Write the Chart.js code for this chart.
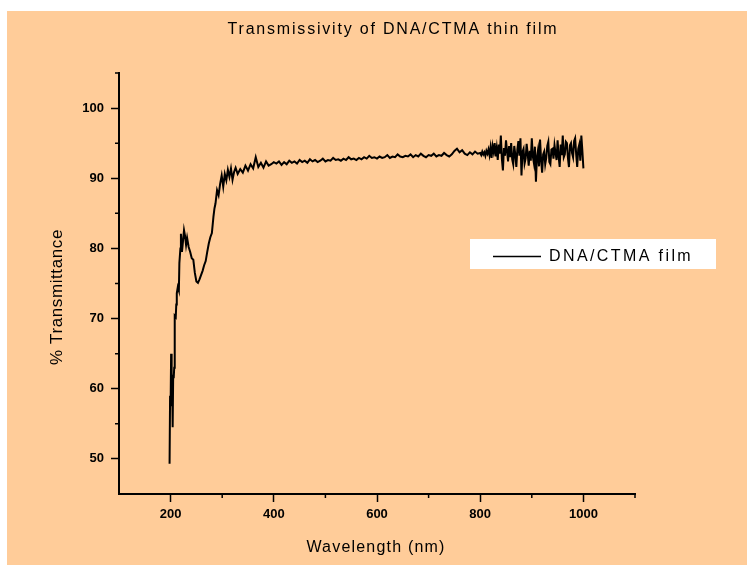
<!DOCTYPE html>
<html>
<head>
<meta charset="utf-8">
<script src="https://cdn.jsdelivr.net/npm/chart.js@4.4.1/dist/chart.umd.min.js"></script>
<style>
  html, body { margin: 0; padding: 0; background: #fff; }
  canvas { display: block; }
</style>
</head>
<body>
<canvas id="transmission-chart" width="747" height="565"></canvas>
<script>
const chartTitle = 'Transmissivity of DNA/CTMA thin film';
const xTitle = 'Wavelength (nm)';
const yTitle = '% Transmittance';
const seriesLabel = 'DNA/CTMA film';

// wavelength in nm
const wavelengths = [
    198, 199, 200, 201, 202, 203, 204, 205, 206, 207,
    208, 210, 211, 212, 214, 216, 217, 219, 220, 222,
    224, 226, 228, 230, 232, 235, 238, 241, 244, 247,
    250, 253, 256, 259, 262, 265, 268, 271, 274, 277,
    280, 283, 285, 287, 290, 293, 296, 299, 302, 305,
    308, 311, 314, 317, 320, 323, 326, 330, 335, 340,
    345, 350, 355, 360, 365, 370, 375, 380, 385, 390,
    395, 400,
    405, 410, 415, 420, 425, 430, 435, 440, 445, 450,
    455, 460, 465, 470, 475, 480, 485, 490, 495, 500,
    505, 510, 515, 520, 525, 530, 535, 540, 545, 550,
    555, 560, 565, 570, 575, 580, 585, 590, 595, 600,
    605, 610, 615, 620, 625, 630, 635, 640, 645, 650,
    655, 660, 665, 670, 675, 680, 685, 690, 695, 700,
    705, 710, 715, 720, 725, 730, 735, 740, 745, 750,
    755, 760, 765, 770, 775, 780, 785, 790, 795,
    800, 802, 804, 806, 808, 810, 812, 814, 816, 818,
    820, 822, 824, 826, 828, 830, 832, 834, 836, 838,
    840, 842, 844, 846, 848, 850, 852, 854, 856, 858,
    860, 862, 864, 866, 868, 870, 872, 874, 876, 878,
    880, 882, 884, 886, 888, 890, 892, 894, 896, 898,
    900, 902, 904, 906, 908, 910, 912, 914, 916, 918,
    920, 922, 924, 926, 928, 930, 932, 934, 936, 938,
    940, 942, 944, 946, 948, 950, 952, 954, 956, 958,
    960, 962, 964, 966, 968, 970, 972, 974, 976, 978,
    980, 982, 984, 986, 988, 990, 992, 994, 996, 998,
    1000
];

// % transmittance
const transmittance = [
    49.3, 59.0, 57.5, 65.0, 58.0, 61.0, 54.5, 62.0, 61.5, 63.0,
    70.4, 70.2, 72.0, 73.6, 74.5, 74.0, 77.9, 80.0, 82.1, 79.5,
    81.0, 82.6, 81.8, 80.5, 81.5, 80.2, 79.5, 78.6, 78.4, 76.5,
    75.3, 75.1, 75.6, 76.2, 76.8, 77.6, 78.2, 79.5, 80.7, 81.6,
    82.2, 84.5, 85.7, 86.4, 88.3, 87.6, 89.2, 90.4, 88.8, 90.6,
    89.7, 91.2, 90.2, 91.4, 89.8, 90.9, 91.5, 90.6, 91.3, 90.8,
    91.8, 91.1, 92.0, 91.4, 93.0, 91.6, 92.2, 91.5, 92.4, 91.8,
    92.0, 92.3,
    92.1, 92.4, 91.9, 92.3, 92.0, 92.5, 92.2, 92.4, 92.1, 92.6,
    92.3, 92.5, 92.2, 92.7, 92.4, 92.6, 92.3, 92.5, 92.8, 92.4,
    92.6, 92.5, 92.9, 92.6, 92.7, 92.5, 92.8, 92.6, 93.0, 92.7,
    92.8, 92.6, 92.9, 92.7, 93.0, 92.8, 93.2, 92.9, 93.0, 92.8,
    93.1, 92.9, 93.0, 93.3, 92.9, 93.1, 93.0, 93.4, 93.1, 93.0,
    93.2, 93.1, 93.4, 93.0, 93.3, 93.1, 93.5, 93.2, 93.0, 93.3,
    93.2, 93.5, 93.1, 93.3, 93.2, 93.6, 93.3, 93.1, 93.4, 93.9,
    94.2, 93.7, 94.0, 93.5, 93.3, 93.7, 93.4, 93.8, 93.5,
    93.6, 93.3, 93.8, 93.4, 93.7, 93.2, 93.9, 93.5, 94.1, 93.3,
    94.4, 92.9, 94.6, 93.8, 95.0, 93.1, 94.3, 92.6, 94.8, 93.5,
    96.1, 92.8, 91.1, 94.3, 93.2, 95.4, 93.9, 92.4, 94.6, 93.0,
    95.0, 92.7, 92.0, 94.6, 93.4, 91.6, 94.1, 95.3, 93.2, 95.7,
    90.4, 93.8, 94.2, 92.1, 92.8, 94.9, 93.5, 91.8, 93.9, 92.5,
    95.7, 93.1, 92.2, 94.5, 89.5, 93.0, 94.0, 91.7, 95.5, 92.6,
    90.8, 93.4, 93.8, 92.0, 92.9, 94.6, 95.2, 92.3, 92.0, 94.1,
    94.2, 92.8, 94.7, 93.6, 92.6, 95.4, 93.1, 91.6, 94.8, 93.3,
    96.1, 93.0, 93.4, 95.2, 95.0, 92.9, 91.6, 94.7, 95.0, 93.6,
    93.0, 95.3, 95.7, 93.4, 91.6, 94.2, 94.8, 92.5, 96.1, 93.9,
    91.4
];

Chart.defaults.font.family = '"Liberation Sans", Arial, sans-serif';
Chart.defaults.color = '#000';

const decor = {
    id: 'decor',
    beforeDraw(chart) {
        const { ctx, width, height } = chart;
        ctx.save();
        ctx.fillStyle = '#ffffff';
        ctx.fillRect(0, 0, width, height);
        ctx.fillStyle = '#FFCC99';
        ctx.fillRect(7, 11, width - 7, height - 11);
        ctx.restore();
    },
    afterDraw(chart) {
        const { ctx, chartArea, scales } = chart;
        const xs = scales.x, ys = scales.y;
        ctx.save();

        // short minor ticks
        ctx.strokeStyle = '#000';
        ctx.lineWidth = 1.5;
        ctx.beginPath();
        xs.ticks.forEach(t => {
            if (t.value % 200 !== 0 && t.value !== xs.min) {
                const px = xs.getPixelForValue(t.value);
                ctx.moveTo(px, chartArea.bottom);
                ctx.lineTo(px, chartArea.bottom + 4);
            }
        });
        ys.ticks.forEach(t => {
            if (t.value % 10 !== 0 && t.value !== ys.min) {
                const py = ys.getPixelForValue(t.value);
                ctx.moveTo(chartArea.left, py);
                ctx.lineTo(chartArea.left - 4, py);
            }
        });
        ctx.stroke();

        // titles
        ctx.fillStyle = '#000';
        ctx.textAlign = 'center';
        ctx.textBaseline = 'middle';
        ctx.font = '16px "Liberation Sans", Arial, sans-serif';
        ctx.letterSpacing = '1.8px';
        ctx.fillText(chartTitle, 393, 30);

        ctx.font = '16px "Liberation Sans", Arial, sans-serif';
        ctx.letterSpacing = '1.2px';
        ctx.fillText(xTitle, 376, 548);

        ctx.font = '17px "Liberation Sans", Arial, sans-serif';
        ctx.letterSpacing = '0.6px';
        ctx.save();
        ctx.translate(57, 297);
        ctx.rotate(-Math.PI / 2);
        ctx.fillText(yTitle, 0, 0);
        ctx.restore();

        // legend box
        const ds = chart.data.datasets[0];
        ctx.fillStyle = '#ffffff';
        ctx.fillRect(470, 239, 246, 30);
        ctx.strokeStyle = ds.borderColor;
        ctx.lineWidth = 1.7;
        ctx.beginPath();
        ctx.moveTo(493, 256.5);
        ctx.lineTo(541, 256.5);
        ctx.stroke();
        ctx.fillStyle = '#000';
        ctx.textAlign = 'left';
        ctx.font = '16px "Liberation Sans", Arial, sans-serif';
        ctx.letterSpacing = '2.4px';
        ctx.fillText(ds.label, 549, 257);

        ctx.restore();
    }
};

new Chart(document.getElementById('transmission-chart'), {
    type: 'line',
    data: {
        datasets: [
            {
                label: seriesLabel,
                data: wavelengths.map((w, i) => ({ x: w, y: transmittance[i] })),
                borderColor: '#000000',
                borderWidth: 2,
                pointRadius: 0,
                tension: 0,
                fill: false
            }
        ]
    },
    options: {
        responsive: false,
        animation: false,
        layout: {
            padding: { top: 73, right: 112, left: 0, bottom: 0 }
        },
        plugins: {
            legend: { display: false },
            title: { display: false },
            tooltip: { enabled: false }
        },
        scales: {
            x: {
                type: 'linear',
                min: 100,
                max: 1100,
                afterFit: scale => { scale.height = 71; },
                border: { color: '#000', width: 2 },
                grid: {
                    drawOnChartArea: false,
                    tickLength: 8,
                    tickWidth: 1.5,
                    tickColor: c => (c.tick && c.tick.value % 200 === 0 ? '#000' : 'rgba(0,0,0,0)')
                },
                ticks: {
                    stepSize: 100,
                    autoSkip: false,
                    maxRotation: 0,
                    padding: 5,
                    font: { size: 13, weight: 'bold' },
                    callback: v => (v % 200 === 0 ? v : '')
                }
            },
            y: {
                min: 45,
                max: 105,
                afterFit: scale => { scale.width = 119; },
                border: { color: '#000', width: 2 },
                grid: {
                    drawOnChartArea: false,
                    tickLength: 8,
                    tickWidth: 1.5,
                    tickColor: c => (c.tick && c.tick.value % 10 === 0 ? '#000' : 'rgba(0,0,0,0)')
                },
                ticks: {
                    stepSize: 5,
                    autoSkip: false,
                    padding: 7,
                    font: { size: 13, weight: 'bold' },
                    callback: v => (v % 10 === 0 ? v : '')
                }
            }
        }
    },
    plugins: [decor]
});
</script>
</body>
</html>
